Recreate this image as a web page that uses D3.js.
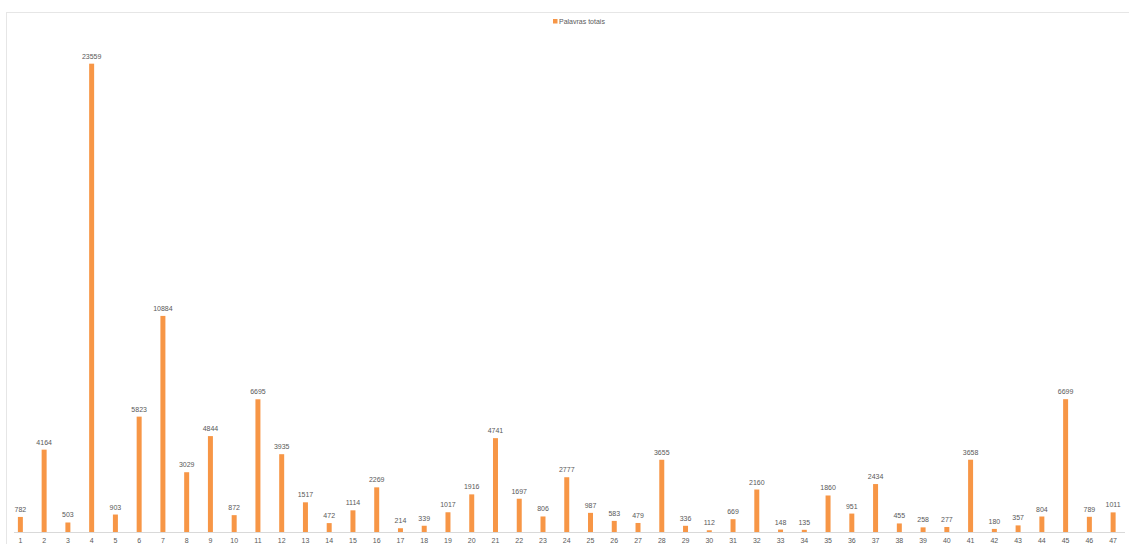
<!DOCTYPE html>
<html>
<head>
<meta charset="utf-8">
<script src="https://cdn.jsdelivr.net/npm/d3@7"></script>
<style>
  body { margin: 0; background: #fff; }
  svg text { font-family: "Liberation Sans", Arial, sans-serif; }
</style>
</head>
<body>
<svg id="chart"></svg>
<script>
const categories = d3.range(1, 48).map(String);
const seriesName = "Palavras totais";
const values = [782, 4164, 503, 23559, 903, 5823, 10884, 3029, 4844, 872,
    6695, 3935, 1517, 472, 1114, 2269, 214, 339, 1017, 1916,
    4741, 1697, 806, 2777, 987, 583, 479, 3655, 336, 112,
    669, 2160, 148, 135, 1860, 951, 2434, 455, 258, 277,
    3658, 180, 357, 804, 6699, 789, 1011];

const width = 1129, height = 544;
const orange = "#f79646";

const svg = d3.select("#chart")
    .attr("width", width)
    .attr("height", height);

// chart frame
svg.append("rect")
    .attr("x", 6.5).attr("y", 12.5)
    .attr("width", width + 10).attr("height", height + 10)
    .attr("fill", "none")
    .attr("stroke", "#e6e6e6");

const x = d3.scaleBand()
    .domain(categories)
    .range([8.5, 1125])
    .paddingInner(0.79)
    .paddingOuter(0.395);

const y = d3.scaleLinear()
    .domain([0, 25000])
    .range([532.5, 35]);

// bars
svg.selectAll(".bar").data(values)
    .enter().append("rect")
    .attr("class", "bar")
    .attr("x", (d, i) => x(categories[i]))
    .attr("y", d => y(d))
    .attr("width", x.bandwidth())
    .attr("height", d => y(0) - y(d))
    .attr("fill", orange);

// value labels
svg.selectAll(".val").data(values)
    .enter().append("text")
    .attr("class", "val")
    .attr("x", (d, i) => x(categories[i]) + x.bandwidth() / 2)
    .attr("y", d => y(d) - 5)
    .attr("text-anchor", "middle")
    .attr("font-size", 7)
    .attr("fill", "#595959")
    .text(d => d);

// x axis
const xAxis = svg.append("g")
    .attr("transform", "translate(0," + y(0) + ")")
    .call(d3.axisBottom(x).tickSize(0).tickPadding(6));
xAxis.select(".domain")
    .attr("stroke", "#d9d9d9")
    .attr("d", "M14,0H1125");
xAxis.selectAll("text")
    .attr("font-size", 7)
    .attr("fill", "#595959");

// legend
const legend = svg.append("g").attr("transform", "translate(553,19)");
legend.append("rect")
    .attr("width", 4.5).attr("height", 4.5)
    .attr("fill", orange);
legend.append("text")
    .attr("x", 6).attr("y", 4.5)
    .attr("font-size", 7)
    .attr("fill", "#595959")
    .text(seriesName);
</script>
</body>
</html>
